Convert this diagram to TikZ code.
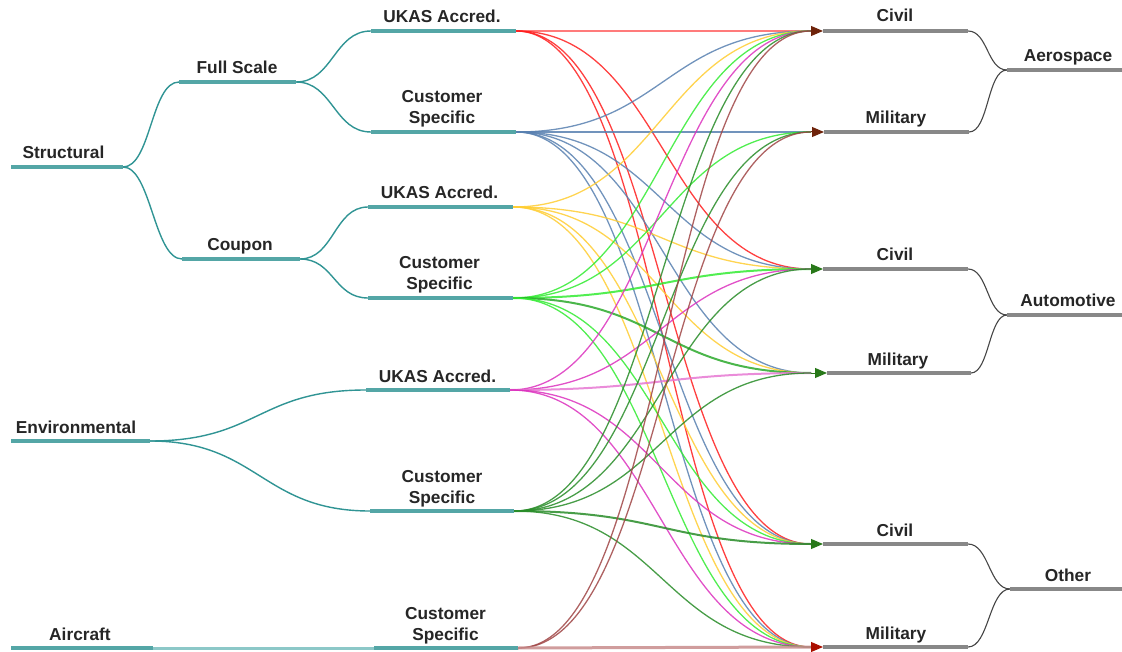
\documentclass[tikz,border=0pt]{standalone}
\usepackage{fontspec}
\setmainfont{Liberation Sans}
\usetikzlibrary{arrows.meta}
\definecolor{tealbar}{RGB}{84,166,166}
\definecolor{tealline}{RGB}{48,148,148}
\definecolor{teallight}{RGB}{140,200,200}
\definecolor{graybar}{RGB}{136,136,136}
\definecolor{grayline}{RGB}{70,70,70}
\definecolor{txt}{RGB}{38,38,38}
\definecolor{cRed}{RGB}{255,30,30}
\definecolor{cRedL}{RGB}{255,100,100}
\definecolor{cBlue}{RGB}{88,128,176}
\definecolor{cYel}{RGB}{255,205,50}
\definecolor{cLime}{RGB}{50,235,50}
\definecolor{cMag}{RGB}{220,50,190}
\definecolor{cMagL}{RGB}{230,120,210}
\definecolor{cDkG}{RGB}{40,140,40}
\definecolor{cBrn}{RGB}{160,70,70}
\definecolor{cBrnL}{RGB}{200,140,140}
\definecolor{aBrn}{RGB}{110,35,10}
\definecolor{aGrn}{RGB}{40,120,25}
\definecolor{aRed}{RGB}{170,15,0}
\begin{document}
\begin{tikzpicture}[x=1pt,y=-1pt,
  lbl/.style={font=\bfseries\fontsize{17.3}{20}\selectfont, text=txt, inner sep=0pt, anchor=base},
  tbar/.style={draw=tealbar, line width=4.3pt},
  tcurve/.style={draw=tealline, line width=1.4pt},
  gbar/.style={draw=graybar, line width=4.3pt},
  gcurve/.style={draw=grayline, line width=1.1pt},
  conn/.style={line width=1.3pt, opacity=0.85},
  tipar/.style={line width=1pt, -{Triangle[length=12pt,width=10pt]}}
]
\useasboundingbox (0,0) rectangle (1122,652);

% ---------- left tree: coordinates ----------
\coordinate (StL) at (11,167);  \coordinate (StR) at (123,167);
\coordinate (FsL) at (179,82);  \coordinate (FsR) at (296,82);
\coordinate (CoL) at (182,259); \coordinate (CoR) at (300,259);
\coordinate (U1L) at (371,31);  \coordinate (U1R) at (516,31);
\coordinate (C1L) at (371,132); \coordinate (C1R) at (516,132);
\coordinate (U2L) at (368,207); \coordinate (U2R) at (513,207);
\coordinate (C2L) at (368,298); \coordinate (C2R) at (513,298);
\coordinate (EnL) at (11,441);  \coordinate (EnR) at (150,441);
\coordinate (U3L) at (366,390); \coordinate (U3R) at (510,390);
\coordinate (C3L) at (370,511); \coordinate (C3R) at (514,511);
\coordinate (AcL) at (11,648);  \coordinate (AcR) at (153,648);
\coordinate (C4L) at (374,648); \coordinate (C4R) at (518,648);

% ---------- right tree: coordinates ----------
\coordinate (V1L) at (823,31);  \coordinate (V1R) at (968,31);
\coordinate (M1L) at (824,132); \coordinate (M1R) at (969,132);
\coordinate (V2L) at (823,269); \coordinate (V2R) at (968,269);
\coordinate (M2L) at (827,373); \coordinate (M2R) at (971,373);
\coordinate (V3L) at (823,544); \coordinate (V3R) at (968,544);
\coordinate (M3L) at (823,647); \coordinate (M3R) at (968,647);
\coordinate (AeL) at (1007,70);  \coordinate (AeR) at (1122,70);
\coordinate (AuL) at (1007,315); \coordinate (AuR) at (1122,315);
\coordinate (OtL) at (1010,589); \coordinate (OtR) at (1122,589);

% arrow bases
\coordinate (B1) at (811,31);
\coordinate (B2) at (811,132);
\coordinate (B3) at (811,269);
\coordinate (B4) at (811,373);
\coordinate (B5) at (811,544);
\coordinate (B6) at (811,647);

% ---------- teal tree curves ----------
\draw[tcurve] (StR) .. controls +(28,0) and +(-28,0) .. (FsL);
\draw[tcurve] (StR) .. controls +(28,0) and +(-28,0) .. (CoL);
\draw[tcurve] (FsR) .. controls +(37,0) and +(-37,0) .. (U1L);
\draw[tcurve] (FsR) .. controls +(37,0) and +(-37,0) .. (C1L);
\draw[tcurve] (CoR) .. controls +(34,0) and +(-34,0) .. (U2L);
\draw[tcurve] (CoR) .. controls +(34,0) and +(-34,0) .. (C2L);
\draw[tcurve] (EnR) .. controls +(108,0) and +(-108,0) .. (U3L);
\draw[tcurve] (EnR) .. controls +(108,0) and +(-108,0) .. (C3L);
\draw[draw=teallight, line width=3pt] (AcR) -- (C4L);

% ---------- gray tree curves ----------
\draw[gcurve] (V1R) .. controls +(20,0) and +(-20,0) .. (AeL);
\draw[gcurve] (M1R) .. controls +(20,0) and +(-20,0) .. (AeL);
\draw[gcurve] (V2R) .. controls +(20,0) and +(-20,0) .. (AuL);
\draw[gcurve] (M2R) .. controls +(18,0) and +(-18,0) .. (AuL);
\draw[gcurve] (V3R) .. controls +(21,0) and +(-21,0) .. (OtL);
\draw[gcurve] (M3R) .. controls +(21,0) and +(-21,0) .. (OtL);

% ---------- coloured connectors ----------
\newcommand\mylink[3]{\draw[conn,#1] (#2) .. controls +(148,0) and +(-148,0) .. (#3);}
% red from UKAS (1)
\draw[conn, cRedL, line width=2.2pt] (U1R) -- (B1);
\mylink{cRed}{U1R}{B3}
\mylink{cRed}{U1R}{B5}
\mylink{cRed}{U1R}{B6}
% blue from Customer Specific (1)
\mylink{cBlue}{C1R}{B1}
\draw[conn, cBlue] (C1R) -- (B2);
\mylink{cBlue}{C1R}{B3}
\mylink{cBlue}{C1R}{B4}
\mylink{cBlue}{C1R}{B5}
\mylink{cBlue}{C1R}{B6}
% yellow from UKAS (2)
\mylink{cYel}{U2R}{B1}
\mylink{cYel}{U2R}{B3}
\mylink{cYel}{U2R}{B4}
\mylink{cYel}{U2R}{B5}
\mylink{cYel}{U2R}{B6}
% lime from Customer Specific (2)
\mylink{cLime}{C2R}{B1}
\mylink{cLime}{C2R}{B2}
\mylink{cLime, line width=2pt}{C2R}{B3}
\mylink{cDkG!70!cLime, line width=2pt}{C2R}{B4}
\mylink{cLime}{C2R}{B5}
\mylink{cLime}{C2R}{B6}
% magenta from UKAS (3)
\mylink{cMag}{U3R}{B1}
\mylink{cMag}{U3R}{B3}
\mylink{cMagL, line width=2pt}{U3R}{B4}
\mylink{cMag}{U3R}{B5}
\mylink{cMag}{U3R}{B6}
% dark green from Customer Specific (3)
\mylink{cDkG}{C3R}{B1}
\mylink{cDkG}{C3R}{B2}
\mylink{cDkG}{C3R}{B3}
\mylink{cDkG}{C3R}{B4}
\mylink{cDkG, line width=2pt}{C3R}{B5}
\mylink{cDkG}{C3R}{B6}
% brown from Customer Specific (4)
\mylink{cBrn}{C4R}{B1}
\mylink{cBrn}{C4R}{B2}
\draw[conn, cBrnL, line width=3pt] (C4R) -- (B6);

% ---------- arrow heads ----------
\draw[tipar, aBrn] (B1) -- (V1L);
\draw[tipar, aBrn] (B2) -- (M1L);
\draw[tipar, aGrn] (B3) -- (V2L);
\draw[tipar, aGrn] (B4) -- (M2L);
\draw[tipar, aGrn] (B5) -- (V3L);
\draw[tipar, aRed] (B6) -- (M3L);

% ---------- bars ----------
\draw[tbar] (StL) -- (StR);
\draw[tbar] (FsL) -- (FsR);
\draw[tbar] (CoL) -- (CoR);
\draw[tbar] (U1L) -- (U1R);
\draw[tbar] (C1L) -- (C1R);
\draw[tbar] (U2L) -- (U2R);
\draw[tbar] (C2L) -- (C2R);
\draw[tbar] (EnL) -- (EnR);
\draw[tbar] (U3L) -- (U3R);
\draw[tbar] (C3L) -- (C3R);
\draw[tbar] (AcL) -- (AcR);
\draw[tbar] (C4L) -- (C4R);
\draw[gbar] (V1L) -- (V1R);
\draw[gbar] (M1L) -- (M1R);
\draw[gbar] (V2L) -- (V2R);
\draw[gbar] (M2L) -- (M2R);
\draw[gbar] (V3L) -- (V3R);
\draw[gbar] (M3L) -- (M3R);
\draw[gbar] (AeL) -- (AeR);
\draw[gbar] (AuL) -- (AuR);
\draw[gbar] (OtL) -- (OtR);

% ---------- labels ----------
\node[lbl] (tSt) at (63.5,159) {Structural};
\node[lbl] (tFs) at (237,74) {Full Scale};
\node[lbl] (tCo) at (240,251) {Coupon};
\node[lbl] (tU1) at (442,23) {UKAS Accred.};
\node[lbl] (tC1a) at (442,103) {Customer};
\node[lbl] (tC1b) at (442,124) {Specific};
\node[lbl] (tU2) at (439.5,199) {UKAS Accred.};
\node[lbl] (tC2a) at (439.5,269) {Customer};
\node[lbl] (tC2b) at (439.5,290) {Specific};
\node[lbl] (tEn) at (76,433) {Environmental};
\node[lbl] (tU3) at (437.5,382) {UKAS Accred.};
\node[lbl] (tC3a) at (442,482) {Customer};
\node[lbl] (tC3b) at (442,503) {Specific};
\node[lbl] (tAc) at (80,640) {Aircraft};
\node[lbl] (tC4a) at (445.5,619) {Customer};
\node[lbl] (tC4b) at (445.5,640) {Specific};
\node[lbl] (tV1) at (895,22) {Civil};
\node[lbl] (tM1) at (896,124) {Military};
\node[lbl] (tAe) at (1068,62) {Aerospace};
\node[lbl] (tV2) at (895,261) {Civil};
\node[lbl] (tM2) at (898,365) {Military};
\node[lbl] (tAu) at (1068,307) {Automotive};
\node[lbl] (tV3) at (895,536) {Civil};
\node[lbl] (tM3) at (896,639) {Military};
\node[lbl] (tOt) at (1068,581) {Other};
\end{tikzpicture}
\end{document}
